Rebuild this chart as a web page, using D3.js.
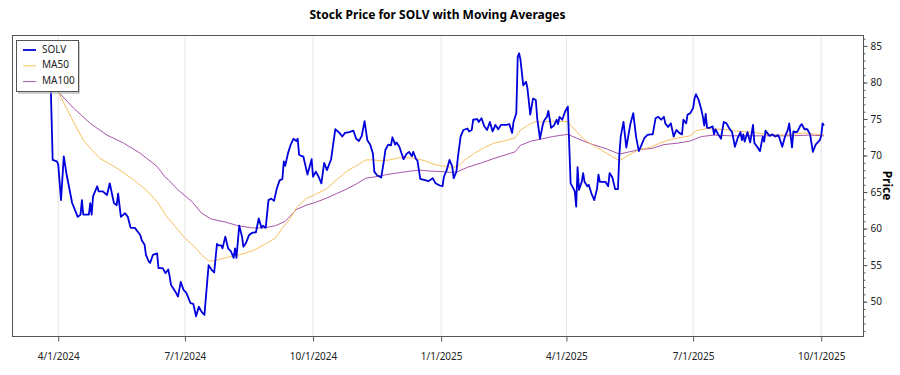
<!DOCTYPE html>
<html><head><meta charset="utf-8">
<script src="https://cdn.jsdelivr.net/npm/d3@7"></script>
<style>body{margin:0;background:#fff} text{font-family:"Noto Sans","Open Sans",sans-serif}</style>
</head><body><svg id="c" width="900" height="375"></svg>
<script>
const solvDates = ["2024-03-26","2024-03-28","2024-03-31","2024-04-01","2024-04-03","2024-04-05","2024-04-07","2024-04-11","2024-04-15","2024-04-17","2024-04-18","2024-04-19","2024-04-23","2024-04-24","2024-04-25","2024-04-26","2024-04-29","2024-04-30","2024-05-03","2024-05-06","2024-05-08","2024-05-11","2024-05-13","2024-05-14","2024-05-16","2024-05-19","2024-05-21","2024-05-23","2024-05-26","2024-05-28","2024-05-30","2024-05-31","2024-06-02","2024-06-03","2024-06-05","2024-06-06","2024-06-08","2024-06-11","2024-06-12","2024-06-15","2024-06-17","2024-06-19","2024-06-20","2024-06-21","2024-06-24","2024-06-26","2024-06-28","2024-06-30","2024-07-02","2024-07-05","2024-07-07","2024-07-09","2024-07-11","2024-07-13","2024-07-15","2024-07-18","2024-07-20","2024-07-22","2024-07-24","2024-07-25","2024-07-27","2024-07-28","2024-07-30","2024-08-01","2024-08-03","2024-08-05","2024-08-06","2024-08-07","2024-08-09","2024-08-11","2024-08-12","2024-08-14","2024-08-16","2024-08-18","2024-08-21","2024-08-23","2024-08-25","2024-08-26","2024-08-28","2024-08-30","2024-09-01","2024-09-03","2024-09-05","2024-09-07","2024-09-09","2024-09-10","2024-09-11","2024-09-13","2024-09-15","2024-09-17","2024-09-19","2024-09-20","2024-09-21","2024-09-23","2024-09-24","2024-09-27","2024-09-30","2024-10-01","2024-10-03","2024-10-05","2024-10-07","2024-10-09","2024-10-11","2024-10-14","2024-10-17","2024-10-20","2024-10-22","2024-10-24","2024-10-27","2024-10-30","2024-11-01","2024-11-03","2024-11-05","2024-11-07","2024-11-09","2024-11-11","2024-11-13","2024-11-14","2024-11-16","2024-11-19","2024-11-21","2024-11-22","2024-11-24","2024-11-26","2024-11-27","2024-11-29","2024-11-30","2024-12-02","2024-12-05","2024-12-07","2024-12-09","2024-12-11","2024-12-12","2024-12-14","2024-12-15","2024-12-17","2024-12-19","2024-12-23","2024-12-26","2024-12-28","2024-12-31","2025-01-02","2025-01-03","2025-01-05","2025-01-07","2025-01-09","2025-01-10","2025-01-12","2025-01-13","2025-01-15","2025-01-17","2025-01-20","2025-01-21","2025-01-23","2025-01-24","2025-01-27","2025-01-28","2025-01-30","2025-02-01","2025-02-03","2025-02-05","2025-02-07","2025-02-09","2025-02-11","2025-02-13","2025-02-17","2025-02-19","2025-02-21","2025-02-22","2025-02-24","2025-02-25","2025-02-26","2025-02-27","2025-03-01","2025-03-03","2025-03-04","2025-03-06","2025-03-08","2025-03-10","2025-03-11","2025-03-13","2025-03-15","2025-03-16","2025-03-18","2025-03-19","2025-03-21","2025-03-23","2025-03-25","2025-03-26","2025-03-27","2025-03-29","2025-03-31","2025-04-02","2025-04-03","2025-04-04","2025-04-06","2025-04-07","2025-04-08","2025-04-09","2025-04-10","2025-04-12","2025-04-13","2025-04-14","2025-04-16","2025-04-17","2025-04-19","2025-04-21","2025-04-23","2025-04-24","2025-04-25","2025-04-27","2025-04-29","2025-05-01","2025-05-02","2025-05-04","2025-05-06","2025-05-08","2025-05-09","2025-05-10","2025-05-12","2025-05-13","2025-05-14","2025-05-16","2025-05-17","2025-05-19","2025-05-21","2025-05-23","2025-05-25","2025-05-27","2025-05-29","2025-05-31","2025-06-02","2025-06-04","2025-06-06","2025-06-08","2025-06-10","2025-06-11","2025-06-13","2025-06-15","2025-06-17","2025-06-19","2025-06-21","2025-06-23","2025-06-24","2025-06-26","2025-06-27","2025-06-29","2025-07-01","2025-07-02","2025-07-03","2025-07-05","2025-07-07","2025-07-08","2025-07-09","2025-07-10","2025-07-11","2025-07-13","2025-07-15","2025-07-16","2025-07-17","2025-07-19","2025-07-21","2025-07-22","2025-07-23","2025-07-25","2025-07-27","2025-07-29","2025-07-31","2025-08-02","2025-08-04","2025-08-05","2025-08-06","2025-08-07","2025-08-09","2025-08-11","2025-08-13","2025-08-14","2025-08-16","2025-08-18","2025-08-20","2025-08-21","2025-08-22","2025-08-24","2025-08-25","2025-08-27","2025-08-29","2025-08-31","2025-09-01","2025-09-03","2025-09-05","2025-09-07","2025-09-08","2025-09-10","2025-09-11","2025-09-13","2025-09-14","2025-09-16","2025-09-17","2025-09-19","2025-09-21","2025-09-23","2025-09-24","2025-09-25","2025-09-27","2025-09-30","2025-10-01","2025-10-02","2025-10-03"];
const solvValues = [84,69.4,69.2,68.8,63.9,69.9,67.4,63.5,61.6,61.9,63.9,61.9,61.9,63.5,61.9,64.4,65.8,65.1,65.1,64.6,66.2,63.5,63.2,64.8,61.6,62.1,61.6,60.1,60.1,59.6,59.1,58.4,57.8,56.4,55.5,55.3,56.4,56.6,54.6,54.6,53.9,54.4,53.5,52.3,51.4,50.7,52.7,51.6,51.2,49.8,49.7,48.0,49.3,48.6,48.2,55.0,54.4,54.0,57.9,57.7,57.7,57.3,58.9,57.3,56.9,56.0,57.3,56.0,60.4,58.9,57.5,58.1,59.1,59.4,59.5,61.4,60.1,60.4,60.1,63.9,64.1,63.8,65.5,66.6,66.8,69.2,68.6,70.3,71.5,72.3,72.0,72.3,70.1,69.9,69.9,67.4,69.5,67.1,67.8,67.1,66.2,69.0,68.0,69.5,73.6,73.1,72.6,73.1,73.2,73.4,72.3,72.0,72.7,74.7,72.1,71.5,70.3,67.8,67.3,67.0,69.4,70.8,71.5,71.4,72.5,71.5,71.8,71.2,69.5,70.2,70.5,69.9,70.5,69.5,69.3,66.8,66.7,66.5,66.9,66.2,65.9,65.8,67.1,68.0,69.4,68.5,66.9,67.8,69.7,72.6,73.5,73.7,73.3,73.5,74.9,75.0,74.6,75.1,74.0,73.5,74.6,73.3,74.2,73.6,74.2,74.2,74.3,73.1,74.6,75.8,83.5,84.0,83.1,79.6,80.1,79.2,75.6,77.8,77.6,75.1,72.3,74.2,74.8,75.3,76.1,73.8,74.1,74.9,74.3,75.3,74.9,76.0,76.7,71.5,66.2,65.5,65.1,63.0,68.4,65.3,66.4,67.6,66.4,65.8,66.0,64.8,63.9,65.5,67.4,66.4,66.4,66.4,65.8,67.6,67.0,65.4,65.4,70.1,72.6,74.6,72.8,71.1,73.3,74.4,75.8,72.6,70.6,71.5,72.4,72.8,72.9,72.9,75.1,75.3,74.9,75.3,74.4,73.9,74.4,72.6,73.5,73.1,72.9,74.9,74.4,75.6,75.8,76.5,77.8,78.4,77.6,76.2,75.3,74.1,75.7,73.8,73.8,74.0,72.9,73.6,72.9,72.3,73.5,74.6,74.4,73.7,73.2,71.2,72.4,73.2,72.1,72.9,71.9,73.2,71.8,74.2,71.7,71.2,70.6,72.6,71.9,73.4,72.9,72.7,72.9,72.6,72.8,72.4,71.2,72.6,73.5,74.4,71.1,73.3,73.2,73.3,74.1,74.3,73.6,73.6,72.9,71.7,70.5,71.5,72.1,72.7,74.4,74.1];

const ma50Dates = ["2024-03-26","2024-04-01","2024-04-05","2024-04-12","2024-04-19","2024-04-25","2024-05-01","2024-05-13","2024-05-25","2024-06-03","2024-06-11","2024-06-17","2024-06-19","2024-06-24","2024-07-01","2024-07-08","2024-07-13","2024-07-18","2024-07-22","2024-07-30","2024-08-06","2024-08-13","2024-08-20","2024-08-27","2024-09-04","2024-09-09","2024-09-14","2024-09-19","2024-09-26","2024-10-03","2024-10-11","2024-10-18","2024-10-25","2024-11-01","2024-11-08","2024-11-13","2024-11-18","2024-11-25","2024-12-02","2024-12-09","2024-12-16","2024-12-20","2024-12-27","2025-01-04","2025-01-09","2025-01-13","2025-01-18","2025-01-25","2025-02-01","2025-02-08","2025-02-15","2025-02-23","2025-02-27","2025-03-04","2025-03-09","2025-03-15","2025-03-20","2025-03-27","2025-04-02","2025-04-08","2025-04-15","2025-04-22","2025-04-30","2025-05-09","2025-05-16","2025-05-23","2025-05-31","2025-06-07","2025-06-13","2025-06-20","2025-06-29","2025-07-03","2025-07-11","2025-07-21","2025-07-30","2025-08-11","2025-08-23","2025-09-04","2025-09-19","2025-10-03"];
const ma50Values = [82,78.7,77.2,74.6,72.1,70.8,69.6,68.3,66.7,65.3,63.7,61.9,61.4,60.3,58.7,57.5,56.4,55.6,55.6,56.0,56.3,56.6,57.1,57.8,58.7,60.1,61.2,62.8,64.1,64.7,65.5,66.7,67.8,68.6,69.4,69.4,69.3,69.4,69.7,69.7,69.5,69.3,68.8,68.5,68.4,68.5,69.4,70.3,71.1,71.7,72.0,72.4,73.5,74.1,74.6,74.6,74.7,74.7,74.6,73.3,72.0,71.2,70.3,69.3,70.1,70.8,71.1,71.7,72.1,72.4,72.7,73.4,73.7,73.6,73.4,73.2,72.9,72.8,73.1,72.8];

const ma100Dates = ["2024-03-26","2024-04-01","2024-04-12","2024-04-24","2024-05-06","2024-05-18","2024-05-30","2024-06-11","2024-06-17","2024-06-19","2024-06-26","2024-07-06","2024-07-13","2024-07-20","2024-07-30","2024-08-08","2024-08-18","2024-08-27","2024-09-04","2024-09-11","2024-09-14","2024-09-19","2024-09-26","2024-10-03","2024-10-11","2024-10-18","2024-10-25","2024-11-01","2024-11-08","2024-11-15","2024-11-23","2024-11-30","2024-12-07","2024-12-16","2024-12-22","2025-01-01","2025-01-08","2025-01-13","2025-01-20","2025-01-30","2025-02-08","2025-02-18","2025-02-23","2025-02-27","2025-03-07","2025-03-15","2025-03-22","2025-04-02","2025-04-08","2025-04-17","2025-04-30","2025-05-09","2025-05-16","2025-05-23","2025-06-02","2025-06-10","2025-06-20","2025-06-29","2025-07-07","2025-07-16","2025-07-28","2025-08-11","2025-08-26","2025-09-09","2025-09-23","2025-10-03"];
const ma100Values = [82,78.7,76.5,74.4,72.8,71.7,70.3,68.5,67.0,66.7,65.3,63.7,62.1,61.3,60.9,60.4,60.1,60.1,60.4,61.0,61.6,62.6,63.2,63.6,64.2,64.8,65.4,66.1,66.9,67.1,67.4,67.6,67.8,68.0,67.9,67.8,67.7,67.8,68.4,69.0,69.6,70.2,70.5,71.4,72.0,72.3,72.6,72.9,72.4,71.7,70.9,70.2,70.5,70.8,71.0,71.5,71.7,72.0,72.6,72.8,72.7,72.7,72.7,72.7,72.8,72.7];

const xTickLabels = ["4/1/2024","7/1/2024","10/1/2024","1/1/2025","4/1/2025","7/1/2025","10/1/2025"];
const yTickValues = [50,55,60,65,70,75,80,85];
const seriesNames = ["SOLV","MA50","MA100"];

const parse = d3.timeParse("%Y-%m-%d");
const parseTick = d3.timeParse("%-m/%-d/%Y");
const W = 900, H = 375;
const L = 12, R = 863, T = 35, B = 336;
const svg = d3.select("#c");

const x = d3.scaleTime().domain([new Date(2024,1,27,19), new Date(2025,9,31)]).range([L, R]);
const y = d3.scaleLinear().domain([45.3, 86.5]).range([B, T]);

const tickDates = xTickLabels.map(parseTick);

// grid
svg.append("g").selectAll("line").data(tickDates).join("line")
  .attr("x1", d => x(d)).attr("x2", d => x(d)).attr("y1", T).attr("y2", B)
  .attr("stroke", "#e6e6e6").attr("stroke-width", 1);

const colors = ["#0000dd", "#f7c060", "#a855a8"];
const widths = [1.8, 1, 1];
const series = [
  solvDates.map((d,i) => [parse(d), solvValues[i]]),
  ma50Dates.map((d,i) => [parse(d), ma50Values[i]]),
  ma100Dates.map((d,i) => [parse(d), ma100Values[i]])
];
const line = d3.line().x(d => x(d[0])).y(d => y(d[1]));
[2,1,0].forEach(k => {
  svg.append("path").datum(series[k]).attr("d", line)
    .attr("fill", "none").attr("stroke", colors[k]).attr("stroke-width", widths[k])
    .attr("stroke-linejoin", "round");
});

// frame
svg.append("rect").attr("x", L + 0.5).attr("y", T + 0.5).attr("width", R - L).attr("height", B - T)
  .attr("fill", "none").attr("stroke", "#555").attr("stroke-width", 1);

// x axis
const xa = svg.append("g").attr("transform", `translate(0,${B + 0.5})`)
  .call(d3.axisBottom(x).tickValues(tickDates).tickFormat((d,i) => xTickLabels[i]).tickSize(5).tickPadding(11));
xa.select(".domain").remove();
xa.selectAll("line").attr("stroke", "#555");
xa.selectAll("text").attr("fill", "#222").style("font-size", "10px");

// y axis right
const minor = d3.range(46, 87);
svg.append("g").attr("transform", `translate(${R + 0.5},0)`)
  .call(d3.axisRight(y).tickValues(minor).tickSize(2).tickFormat(""))
  .call(g => { g.select(".domain").remove(); g.selectAll("line").attr("stroke", "#555"); });
const ya = svg.append("g").attr("transform", `translate(${R + 0.5},0)`)
  .call(d3.axisRight(y).tickValues(yTickValues).tickSize(4).tickPadding(3));
ya.select(".domain").remove();
ya.selectAll("line").attr("stroke", "#555");
ya.selectAll("text").attr("fill", "#222").style("font-size", "10px");

// title
svg.append("text").attr("x", (L + R) / 2).attr("y", 19).attr("text-anchor", "middle")
  .style("font-size", "12px").style("font-weight", "bold").attr("fill", "#000")
  .text("Stock Price for SOLV with Moving Averages");

// y label
svg.append("text").attr("transform", `translate(886,${(T + B) / 2}) rotate(90)`)
  .attr("text-anchor", "middle").attr("dominant-baseline", "middle")
  .style("font-size", "12px").style("font-weight", "bold").attr("fill", "#000").text("Price");

// legend
const lg = svg.append("g");
lg.append("rect").attr("x", 18).attr("y", 42).attr("width", 62).attr("height", 52).attr("fill", "#aaa").attr("opacity", 0.6);
lg.append("rect").attr("x", 16.5).attr("y", 40.5).attr("width", 62).attr("height", 51).attr("fill", "#fff").attr("stroke", "#555");
seriesNames.forEach((n, i) => {
  const yy = 50 + i * 15.8;
  lg.append("line").attr("x1", 23).attr("x2", 36).attr("y1", yy).attr("y2", yy)
    .attr("stroke", colors[i]).attr("stroke-width", i === 0 ? 1.8 : 1);
  lg.append("text").attr("x", 42).attr("y", yy).attr("dominant-baseline", "middle")
    .style("font-size", "10px").attr("fill", "#222").text(n);
});
</script></body></html>
